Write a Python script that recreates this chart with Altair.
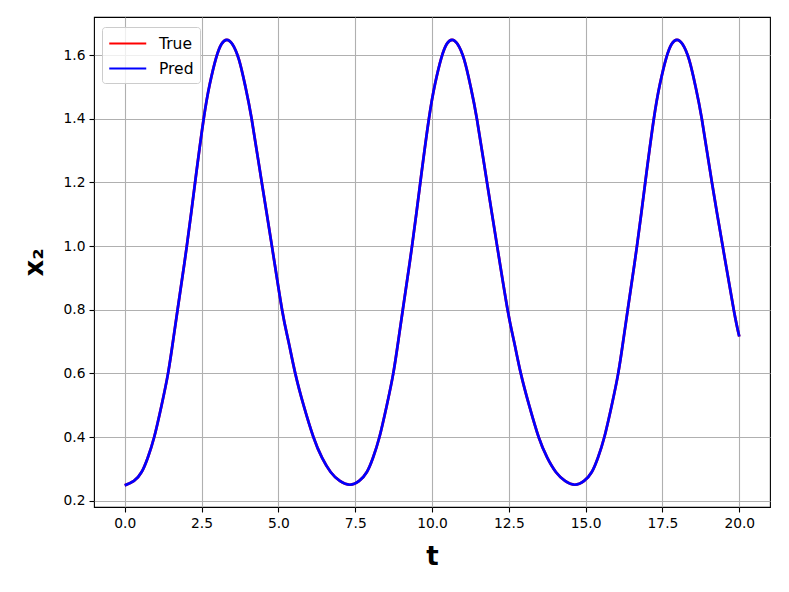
import altair as alt
import pandas as pd

# Values (three cycles)
t_vals = [0.0, 0.30, 0.55, 0.75, 0.96, 1.20, 1.41, 1.57, 1.72, 2.02, 2.29, 2.57, 2.77, 2.97,
          3.15, 3.32, 3.50, 3.72, 3.93, 4.13, 4.46, 4.79, 5.12, 5.33, 5.55, 5.82, 6.14, 6.42,
          6.70, 7.00,
          7.33, 7.63, 7.88, 8.08, 8.29, 8.53, 8.74, 8.90, 9.05, 9.35, 9.62, 9.90, 10.10, 10.30,
          10.48, 10.65, 10.83, 11.05, 11.26, 11.46, 11.79, 12.12, 12.46, 12.67, 12.89, 13.16,
          13.47, 13.75, 14.03, 14.33,
          14.65, 14.95, 15.20, 15.40, 15.61, 15.85, 16.06, 16.22, 16.37, 16.67, 16.94, 17.22,
          17.42, 17.62, 17.80, 17.97, 18.15, 18.37, 18.58, 18.78, 19.11, 19.46, 19.82, 20.0]
x2_true = [0.248, 0.262, 0.290, 0.335, 0.400, 0.500, 0.600, 0.700, 0.800, 1.000, 1.200, 1.400,
           1.510, 1.590, 1.635, 1.648, 1.635, 1.585, 1.500, 1.400, 1.200, 1.000, 0.800, 0.700,
           0.600, 0.500, 0.400, 0.335, 0.290, 0.262,
           0.250, 0.262, 0.290, 0.335, 0.400, 0.500, 0.600, 0.700, 0.800, 1.000, 1.200, 1.400,
           1.510, 1.590, 1.635, 1.648, 1.635, 1.585, 1.500, 1.400, 1.200, 1.000, 0.800, 0.700,
           0.600, 0.500, 0.400, 0.335, 0.290, 0.262,
           0.250, 0.262, 0.290, 0.335, 0.400, 0.500, 0.600, 0.700, 0.800, 1.000, 1.200, 1.400,
           1.510, 1.590, 1.635, 1.648, 1.635, 1.585, 1.500, 1.400, 1.200, 1.000, 0.800, 0.716]
x2_pred = list(x2_true)

x_ticks = [0, 2.5, 5, 7.5, 10, 12.5, 15, 17.5, 20]
y_ticks = [0.2, 0.4, 0.6, 0.8, 1.0, 1.2, 1.4, 1.6]

df = pd.concat([
    pd.DataFrame({"t": t_vals, "x2": x2_true, "series": "True"}),
    pd.DataFrame({"t": t_vals, "x2": x2_pred, "series": "Pred"}),
])

color = alt.Color(
    "series:N",
    scale=alt.Scale(domain=["True", "Pred"], range=["#ff0000", "#0000ff"]),
    legend=alt.Legend(
        title=None, orient="none", legendX=8, legendY=10,
        symbolType="M-1,0L3,0", symbolSize=342, symbolStrokeWidth=2.2,
        labelFontSize=15.5, labelFont="DejaVu Sans", labelColor="black",
        labelOffset=30, rowPadding=6, padding=6,
        fillColor="rgba(255,255,255,0.8)", strokeColor="#cccccc", cornerRadius=3,
    ),
)

x = alt.X("t:Q", scale=alt.Scale(domain=[-1, 21], nice=False, zero=False),
          axis=alt.Axis(values=x_ticks, format=".1f", title="t"))
y = alt.Y("x2:Q", scale=alt.Scale(domain=[0.18, 1.72], nice=False, zero=False),
          axis=alt.Axis(values=y_ticks, format=".1f", title="x₂"))

base = alt.Chart(df).mark_line(strokeWidth=2.7, interpolate="natural").encode(
    x=x, y=y, color=color, order="t:Q")

line_true = base.transform_filter(alt.datum.series == "True")
line_pred = base.transform_filter(alt.datum.series == "Pred")

chart = alt.layer(line_true, line_pred).properties(
    width=676, height=490,
    autosize=alt.AutoSizeParams(type="none"),
    padding={"left": 86, "top": 9, "right": 11, "bottom": 77},
).configure_view(
    stroke="black", strokeWidth=1.1
).configure_axis(
    domain=False, grid=True, gridColor="#b0b0b0", gridWidth=1.1,
    ticks=True, tickColor="black", tickSize=5, tickWidth=1.1,
    labelFont="DejaVu Sans", labelFontSize=13.8, labelColor="black", labelPadding=4,
    titleFont="DejaVu Sans", titleFontWeight="bold", titleFontSize=26, titleColor="black",
).configure_axisX(
    titlePadding=14
).configure_axisY(
    titlePadding=16
)

chart.save("out.html", embed_options={"renderer": "svg", "actions": False})
